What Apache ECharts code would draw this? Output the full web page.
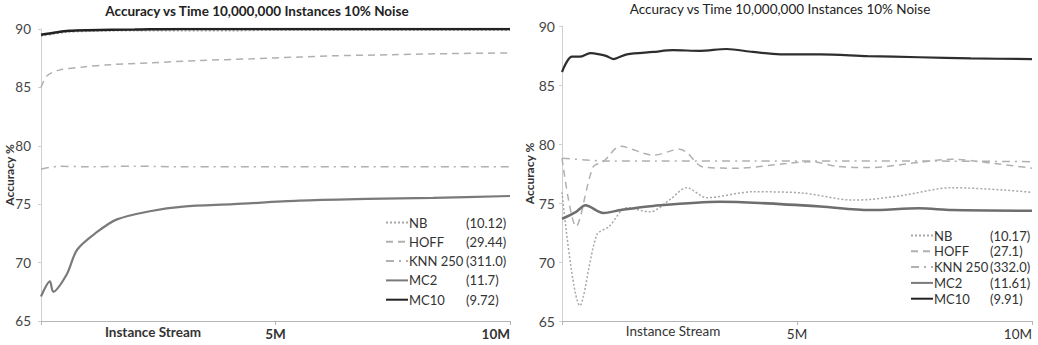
<!DOCTYPE html>
<html>
<head>
<meta charset="utf-8">
<script src="https://cdn.jsdelivr.net/npm/echarts@6/dist/echarts.min.js"></script>
<style>
  html, body { margin: 0; padding: 0; background: #fff; }
  #chart { width: 1038px; height: 345px; }
</style>
</head>
<body>
<div id="chart"></div>
<script>
// shared axis ticks
const yMin = 65, yMax = 90, yStep = 5;
const xTickValues = [5, 10];
const xTickLabels = ['5M', '10M'];
const seriesNames = ['NB', 'HOFF', 'KNN 250', 'MC2', 'MC10'];

// left panel (x in millions of instances)
const leftTimes = ['(10.12)', '(29.44)', '(311.0)', '(11.7)', '(9.72)'];
const leftNbX = [0, 0.5, 1, 2, 3, 4, 5, 6, 7, 8, 9, 10];
const leftNbY = [89.4, 89.7, 89.8, 89.85, 89.85, 89.85, 89.9, 89.9, 89.9, 89.9, 89.9, 89.9];
const leftHoffX = [0, 0.13, 0.4, 0.9, 1.5, 2.3, 3.4, 4.5, 5.5, 6.2, 7.5, 8.8, 10];
const leftHoffY = [85.0, 86.0, 86.5, 86.75, 86.95, 87.1, 87.3, 87.45, 87.6, 87.7, 87.8, 87.9, 87.95];
const leftKnnX = [0, 0.4, 1, 2, 3, 5, 7, 10];
const leftKnnY = [78.0, 78.25, 78.2, 78.25, 78.2, 78.2, 78.2, 78.2];
const leftMc2X = [0, 0.19, 0.26, 0.55, 0.77, 1.19, 1.62, 2.32, 3.03, 4.1, 5.5, 6.95, 8.36, 10];
const leftMc2Y = [67.1, 68.4, 67.5, 69.0, 71.1, 72.6, 73.7, 74.4, 74.8, 75.0, 75.3, 75.45, 75.55, 75.7];
const leftMc10X = [0, 0.3, 0.6, 1, 2, 3, 5, 10];
const leftMc10Y = [89.5, 89.7, 89.85, 89.9, 89.95, 90, 90, 90];

// right panel
const rightTimes = ['(10.17)', '(27.1)', '(332.0)', '(11.61)', '(9.91)'];
const rightNbX = [0, 0.38, 0.74, 1.0, 1.38, 1.87, 2.3, 2.65, 3.08, 4.06, 5.1, 6.2, 6.55, 7.26, 8.3, 9.4, 10];
const rightNbY = [75.9, 66.3, 72.3, 73.0, 74.6, 74.25, 75.3, 76.3, 75.45, 75.95, 75.85, 75.25, 75.3, 75.65, 76.3, 76.1, 75.9];
const rightHoffX = [0, 0.3, 0.66, 0.88, 1.24, 1.94, 2.5, 2.65, 3.0, 3.72, 4.78, 5.3, 5.85, 6.55, 7.6, 8.3, 9.2, 10];
const rightHoffY = [78.8, 73.0, 78.05, 78.5, 79.8, 79.05, 79.55, 79.3, 78.05, 77.95, 78.35, 78.5, 78.1, 78.0, 78.45, 78.7, 78.35, 77.95];
const rightKnnX = [0, 0.5, 1, 2, 4, 6, 8, 10];
const rightKnnY = [78.8, 78.65, 78.55, 78.55, 78.55, 78.55, 78.55, 78.5];
const rightMc2X = [0, 0.3, 0.5, 0.88, 1.24, 1.94, 3.36, 4.2, 5.5, 6.55, 7.6, 8.3, 10];
const rightMc2Y = [73.65, 74.25, 74.8, 74.15, 74.4, 74.75, 75.1, 75.0, 74.7, 74.4, 74.55, 74.4, 74.35];
const rightMc10X = [0, 0.21, 0.38, 0.6, 0.8, 0.95, 1.09, 1.38, 1.94, 2.36, 2.94, 3.5, 4.06, 4.64, 5.5, 6.5, 7.6, 8.7, 10];
const rightMc10Y = [86.1, 87.4, 87.4, 87.7, 87.6, 87.45, 87.2, 87.6, 87.8, 87.95, 87.9, 88.05, 87.8, 87.6, 87.6, 87.45, 87.35, 87.25, 87.2];

const FONT = 'Lato';

const lineStyles = {
  'NB':      { color: '#a8a8a8', width: 1.5, type: [2, 2] },
  'HOFF':    { color: '#b0b0b0', width: 1.5, type: [7, 5] },
  'KNN 250': { color: '#b0b0b0', width: 1.5, type: [8, 5, 2, 5] },
  'MC2':     { color: '#7a7a7a', width: 2.2, type: 'solid' },
  'MC10':    { color: '#222222', width: 2.5, type: 'solid' }
};

function pairs(xs, ys) {
  return xs.map((x, i) => [x, ys[i]]);
}

function makeSeries(idx, name, xs, ys) {
  const ls = lineStyles[name];
  return {
    name: name,
    type: 'line',
    xAxisIndex: idx,
    yAxisIndex: idx,
    data: pairs(xs, ys),
    smooth: 0.3,
    symbol: 'none',
    color: ls.color,
    lineStyle: { color: ls.color, width: ls.width, type: ls.type },
    z: name === 'MC10' ? 5 : 3
  };
}

function xAxisCfg(idx, bold) {
  return {
    type: 'value',
    gridIndex: idx,
    min: 0,
    max: 10,
    interval: 5,
    axisLine: { lineStyle: { color: '#b5b5b5', width: 1 } },
    axisTick: { show: true, length: 4, lineStyle: { color: '#b5b5b5' } },
    splitLine: { show: false },
    axisLabel: {
      fontFamily: FONT,
      fontSize: 13.5,
      fontWeight: bold ? 'bold' : 'normal',
      color: '#333',
      margin: 6,
      alignMaxLabel: 'right',
      formatter: v => {
        const k = xTickValues.indexOf(v);
        return k >= 0 ? xTickLabels[k] : '';
      }
    }
  };
}

function yAxisCfg(idx, fontSize, margin, nameGap) {
  return {
    type: 'value',
    gridIndex: idx,
    min: yMin,
    max: yMax,
    interval: yStep,
    name: 'Accuracy %',
    nameLocation: 'middle',
    nameRotate: 90,
    nameGap: nameGap,
    nameMoveOverlap: false,
    nameTextStyle: { fontFamily: FONT, fontSize: 12, fontWeight: 'bold', color: '#333' },
    axisLine: { show: true, lineStyle: { color: '#d0d0d0', width: 1 } },
    axisTick: { show: true, length: 3, lineStyle: { color: '#d0d0d0' } },
    splitLine: { show: false },
    axisLabel: { fontFamily: FONT, fontSize: fontSize, color: '#444', margin: margin }
  };
}

function legendCfg(left, top, gap, times, nameWidth) {
  return {
    orient: 'vertical',
    left: left,
    top: top,
    itemWidth: 22,
    itemHeight: 14,
    itemGap: gap,
    padding: 0,
    data: seriesNames,
    itemStyle: { opacity: 0, borderWidth: 0 },
    formatter: name => {
      const i = seriesNames.indexOf(name);
      return '{n|' + name + '}{v|' + times[i] + '}';
    },
    textStyle: {
      fontFamily: FONT,
      fontSize: 13,
      color: '#333',
      rich: {
        n: { fontFamily: FONT, fontSize: 13, color: '#333', width: nameWidth, padding: [0, 0, 0, -4] },
        v: { fontFamily: FONT, fontSize: 13, color: '#333' }
      }
    }
  };
}

const chart = echarts.init(document.getElementById('chart'), null, { renderer: 'svg' });

const series = [
  makeSeries(0, 'NB', leftNbX, leftNbY),
  makeSeries(0, 'HOFF', leftHoffX, leftHoffY),
  makeSeries(0, 'KNN 250', leftKnnX, leftKnnY),
  makeSeries(0, 'MC2', leftMc2X, leftMc2Y),
  makeSeries(0, 'MC10', leftMc10X, leftMc10Y),
  makeSeries(1, 'NB', rightNbX, rightNbY),
  makeSeries(1, 'HOFF', rightHoffX, rightHoffY),
  makeSeries(1, 'KNN 250', rightKnnX, rightKnnY),
  makeSeries(1, 'MC2', rightMc2X, rightMc2Y),
  makeSeries(1, 'MC10', rightMc10X, rightMc10Y)
];
// right panel MC lines are a bit softer
series[8].lineStyle.color = '#6e6e6e';
series[8].lineStyle.width = 2.5;
series[9].lineStyle.color = '#2e2e2e';
series[9].lineStyle.width = 2.2;

const option = {
  animation: false,
  backgroundColor: '#fff',
  title: [
    {
      text: 'Accuracy vs Time 10,000,000 Instances 10% Noise',
      left: 257, top: 4, textAlign: 'center', padding: 0,
      textStyle: { fontFamily: FONT, fontSize: 13.5, fontWeight: 'bold', color: '#222' }
    },
    {
      text: 'Accuracy vs Time 10,000,000 Instances 10% Noise',
      left: 780, top: 2, textAlign: 'center', padding: 0,
      textStyle: { fontFamily: FONT, fontSize: 13.5, fontWeight: 'normal', color: '#222' }
    },
    {
      text: 'Instance Stream',
      left: 153, top: 325, textAlign: 'center', padding: 0,
      textStyle: { fontFamily: FONT, fontSize: 13.5, fontWeight: 'bold', color: '#333' }
    },
    {
      text: 'Instance Stream',
      left: 673, top: 324, textAlign: 'center', padding: 0,
      textStyle: { fontFamily: FONT, fontSize: 13.5, fontWeight: 'normal', color: '#333' }
    }
  ],
  grid: [
    { left: 41, top: 29, right: 528, bottom: 24, outerBoundsMode: 'none' },
    { left: 562, top: 26, right: 6, bottom: 24, outerBoundsMode: 'none' }
  ],
  xAxis: [xAxisCfg(0, true), xAxisCfg(1, false)],
  yAxis: [yAxisCfg(0, 13.5, 10, 26), yAxisCfg(1, 14, 7, 27)],
  legend: [
    legendCfg(385, 216, 6.3, leftTimes, 57),
    legendCfg(910, 229, 2.8, rightTimes, 56)
  ],
  series: series
};

chart.setOption(option);
</script>
</body>
</html>
